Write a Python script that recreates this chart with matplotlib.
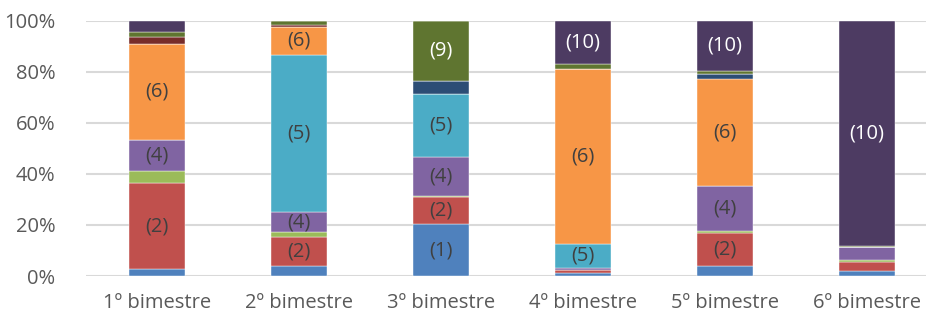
import matplotlib.pyplot as plt
import numpy as np

plt.rcParams['font.family'] = ['Open Sans', 'DejaVu Sans']

bimestres = ["1º bimestre", "2º bimestre", "3º bimestre",
             "4º bimestre", "5º bimestre", "6º bimestre"]

# share (%) of each category per bimestre, series (1) .. (10)
s1 = [2.6, 3.9, 20.2, 1.0, 4.0, 2.1]
s2 = [33.7, 11.4, 10.7, 1.2, 12.9, 3.3]
s3 = [4.9, 1.8, 0.4, 0.3, 0.5, 0.9]
s4 = [12.0, 7.8, 15.1, 0.6, 17.7, 5.2]
s5 = [0.0, 61.6, 24.8, 9.5, 0.0, 0.0]
s6 = [37.5, 11.1, 0.0, 68.2, 41.8, 0.0]
s7 = [0.0, 0.0, 5.1, 0.0, 2.0, 0.0]
s8 = [2.6, 0.7, 0.0, 0.0, 0.0, 0.0]
s9 = [2.1, 1.6, 23.5, 1.8, 1.4, 0.2]
s10 = [4.4, 0.0, 0.0, 17.0, 19.5, 88.3]
series = [s1, s2, s3, s4, s5, s6, s7, s8, s9, s10]
series_names = ["(%d)" % (i + 1) for i in range(len(series))]

colors = ["#4F81BD", "#C0504D", "#9BBB59", "#8064A2", "#4BACC6",
          "#F79646", "#2C4D75", "#772C2A", "#5F7530", "#4D3B62"]
light_text = ["(9)", "(10)"]

fig = plt.figure(figsize=(9.26, 3.2), dpi=100)
ax = fig.add_axes([86 / 926, 44 / 320, 840 / 926, 255.3 / 320])

x = np.arange(len(bimestres))
data = np.array(series, dtype=float)
totals = data.sum(axis=0)
pct = data / totals * 100
bottom = np.zeros(len(bimestres))
for name, vals, col in zip(series_names, pct, colors):
    bars = ax.bar(x, vals, 0.4, bottom=bottom, color=col,
                  edgecolor="#ffffff", linewidth=0.3, zorder=3)
    for b, v, y0 in zip(bars, vals, bottom):
        if v >= 6:
            tc = "white" if name in light_text else "#404040"
            ax.text(b.get_x() + b.get_width() / 2, y0 + v / 2, name,
                    ha="center", va="center", fontsize=14.5, color=tc, zorder=4)
    bottom += vals

ax.set_xlim(-0.5, 5.415)
ax.set_ylim(0, 100)
ax.set_yticks(range(0, 101, 20))
ax.set_yticklabels(["%d%%" % v for v in range(0, 101, 20)])
ax.set_xticks(x)
ax.set_xticklabels(bimestres)
ax.tick_params(length=0, labelsize=14.5, colors="#595959")
ax.tick_params(axis="y", pad=22)
ax.tick_params(axis="x", pad=12)
ax.grid(axis="y", color="#d9d9d9", linewidth=1.5, zorder=0)
for sp in ax.spines.values():
    sp.set_visible(False)

plt.savefig("out.png", dpi=100)
